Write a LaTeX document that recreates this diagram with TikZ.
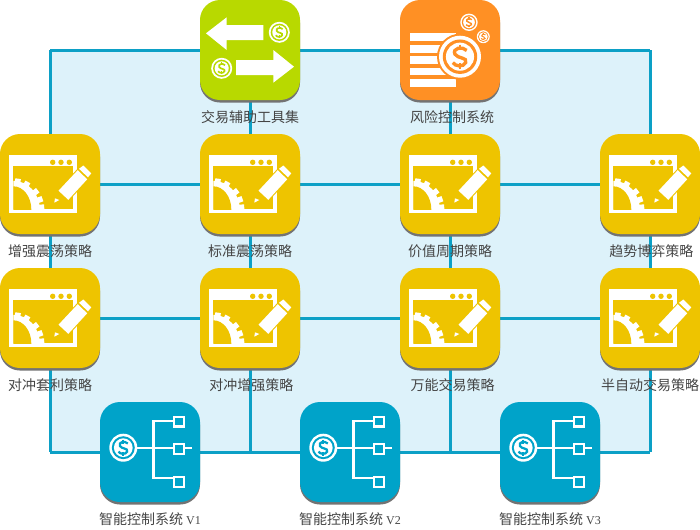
\documentclass[tikz,border=0pt]{standalone}
\usepackage{fontspec}
\setmainfont{Liberation Serif}
\newfontfamily\cjk{Noto Sans CJK SC}
\usetikzlibrary{shadows}
\usetikzlibrary{backgrounds}

\definecolor{gridline}{HTML}{0CA0C6}
\definecolor{gridfill}{HTML}{DDF2FA}
\definecolor{toolcol}{HTML}{B8D900}
\definecolor{riskcol}{HTML}{FF9024}
\definecolor{strategycol}{HTML}{EEC400}
\definecolor{controlcol}{HTML}{00A3C9}
\definecolor{captioncol}{HTML}{444444}

\newcommand{\coinmark}[4]{%
  \begin{scope}[shift={(#1,#2)},scale=#3]
    \fill[white] (0,0) circle (1);
    \fill[#4] (0,0) circle (.82);
    \fill[white] (0,0) circle (.67);
    \draw[#4,line width=#3*.12] (.32,-.3) .. controls (.1,-.52) and (-.38,-.4) .. (-.24,-.12)
      .. controls (-.12,.1) and (.38,.02) .. (.27,.28) .. controls (.16,.52) and (-.24,.46) .. (-.34,.28);
    \draw[#4,line width=#3*.09] (0,-.58) -- (0,-.3) (0,.3) -- (0,.58);
  \end{scope}}

\tikzset{
  icon/.style={rounded corners=15pt, minimum width=75pt, minimum height=75pt, inner sep=0pt,
    general shadow={fill=black!55, shadow yshift=-1.9pt}},
  caption/.style={node distance=50.25pt, text=captioncol, font=\fontsize{10.5pt}{12pt}\selectfont\cjk, inner sep=0pt},
  gridpath/.style={draw=gridline, line width=2.25pt},
  toolglyph/.pic={
    \fill[white] (-44,-16.7) -- (-23.3,-32.7) -- (-23.3,-25) -- (13.3,-25) -- (13.3,-10) -- (-23.3,-10) -- (-23.3,0) -- cycle;
    \fill[white] (44,16.7) -- (23.3,0) -- (23.3,10) -- (-14,10) -- (-14,25) -- (23.3,25) -- (23.3,32.7) -- cycle;
    \coinmark{29.3}{-17.7}{10.5}{toolcol}
    \coinmark{-28.3}{18.3}{10.5}{toolcol}
  },
  riskglyph/.pic={
    \foreach \y in {-16.7,-5,6,17.7,29}
      \fill[white] (-40,\y) rectangle (6,\y+7.6);
    \fill[riskcol] (10,6.7) circle (23);
    \coinmark{10}{6.7}{21}{riskcol}
    \coinmark{19}{-27.7}{8.7}{riskcol}
    \coinmark{33.3}{-13.3}{6.5}{riskcol}
  },
  strategyglyph/.pic={
    \fill[white] (-40.7,-29) rectangle (27,29.3);
    \fill[strategycol] (-36.7,-18.3) rectangle (23,25.3);
    \foreach \x in {2.7,11,19.3}
      \fill[strategycol] (\x,-21.7) circle (2.7);
    \begin{scope}
      \clip (-36.7,-18.3) rectangle (23,25.3);
      \fill[white] (-36.7,25.3) ellipse (26.5 and 28.5);
      \fill[strategycol] (-36.7,25.3) ellipse (18 and 23);
      \foreach \a in {-81,-62,-38,-20,-4}
        \draw[white,line width=4.2pt] (-36.7,25.3) ++(\a:24) -- ++(\a:7);
    \end{scope}
    \fill[white] (4.3,18.7) -- (5,14.3) -- (9.3,16) -- cycle;
    \draw[strategycol,line width=1.6pt,fill=strategycol] (8.5,6.7) -- (18.3,15.8) -- (37.2,-4.7) -- (27.7,-13.8) -- cycle;
    \fill[white] (8.5,6.7) -- (18.3,15.8) -- (37.2,-4.7) -- (27.7,-13.8) -- cycle;
    \draw[strategycol,line width=1.2pt,fill=strategycol] (29,-15.2) -- (33.3,-18.5) -- (41.3,-10.7) -- (38,-6.7) -- cycle;
    \fill[white] (29,-15.2) -- (33.3,-18.5) -- (41.3,-10.7) -- (38,-6.7) -- cycle;
  },
  controlglyph/.pic={
    \draw[white,line width=2.2pt] (-14,-4) -- (41.7,-4);
    \draw[white,line width=2.2pt] (29,-31) -- (3.3,-31) -- (3.3,26) -- (29,26);
    \foreach \y in {-30.3,-3,30}
      \filldraw[fill=controlcol,draw=white,line width=1.8pt] (23.9,\y-4.8) rectangle (33.8,\y+4.8);
    \coinmark{-26.7}{-4.3}{14}{controlcol}
  }
}

\begin{document}
\begin{tikzpicture}[x=0.75pt, y=-0.75pt, node distance=150pt]
\useasboundingbox (0,0) rectangle (700,529);

\node[icon, fill=toolcol] (tool) at (250,50) {};
\node[icon, fill=riskcol, right of=tool] (risk) {};

\node[icon, fill=strategycol] (s_1) at (50,184) {};
\node[icon, fill=strategycol, right of=s_1] (s_2) {};
\node[icon, fill=strategycol, right of=s_2] (s_3) {};
\node[icon, fill=strategycol, right of=s_3] (s_4) {};

\node[icon, fill=strategycol] (h_1) at (50,318) {};
\node[icon, fill=strategycol, right of=h_1] (h_2) {};
\node[icon, fill=strategycol, right of=h_2] (h_3) {};
\node[icon, fill=strategycol, right of=h_3] (h_4) {};

\node[icon, fill=controlcol] (c_1) at (150,452) {};
\node[icon, fill=controlcol, right of=c_1] (c_2) {};
\node[icon, fill=controlcol, right of=c_2] (c_3) {};

\coordinate (nw) at (50,50);
\coordinate (ne) at (650,50);
\coordinate (sw) at (50,452);
\coordinate (se) at (650,452);
\coordinate (b_1) at (250,452);
\coordinate (b_2) at (450,452);

\begin{scope}[on background layer]
\fill[gridfill] (nw) rectangle (se);
\draw[gridpath] (nw) -- (tool) -- (risk) -- (ne);
\draw[gridpath] (s_1) -- (s_2) -- (s_3) -- (s_4);
\draw[gridpath] (h_1) -- (h_2) -- (h_3) -- (h_4);
\draw[gridpath] (sw) -- (c_1) -- (c_2) -- (c_3) -- (se);
\draw[gridpath] (nw) -- (s_1) -- (h_1) -- (sw);
\draw[gridpath] (tool) -- (s_2) -- (h_2) -- (b_1);
\draw[gridpath] (risk) -- (s_3) -- (h_3) -- (b_2);
\draw[gridpath] (ne) -- (s_4) -- (h_4) -- (se);
\end{scope}

\pic at (tool) {toolglyph};
\pic at (risk) {riskglyph};
\foreach \n in {s_1,s_2,s_3,s_4,h_1,h_2,h_3,h_4}
  \pic at (\n) {strategyglyph};
\foreach \n in {c_1,c_2,c_3}
  \pic at (\n) {controlglyph};

\node[caption, below of=tool] (tool_t) {交易辅助工具集};
\node[caption, below of=risk, xshift=1.5pt] (risk_t) {风险控制系统};
\node[caption, below of=s_1] (s_1_t) {增强震荡策略};
\node[caption, below of=s_2] (s_2_t) {标准震荡策略};
\node[caption, below of=s_3] (s_3_t) {价值周期策略};
\node[caption, below of=s_4, xshift=1pt] (s_4_t) {趋势博弈策略};
\node[caption, below of=h_1] (h_1_t) {对冲套利策略};
\node[caption, below of=h_2, xshift=1pt] (h_2_t) {对冲增强策略};
\node[caption, below of=h_3, xshift=2pt] (h_3_t) {万能交易策略};
\node[caption, below of=h_4] (h_4_t) {半自动交易策略};
\node[caption, below of=c_1] (c_1_t) {智能控制系统 {\rmfamily\fontsize{9pt}{12pt}\selectfont V1}};
\node[caption, below of=c_2] (c_2_t) {智能控制系统 {\rmfamily\fontsize{9pt}{12pt}\selectfont V2}};
\node[caption, below of=c_3] (c_3_t) {智能控制系统 {\rmfamily\fontsize{9pt}{12pt}\selectfont V3}};

\end{tikzpicture}
\end{document}
